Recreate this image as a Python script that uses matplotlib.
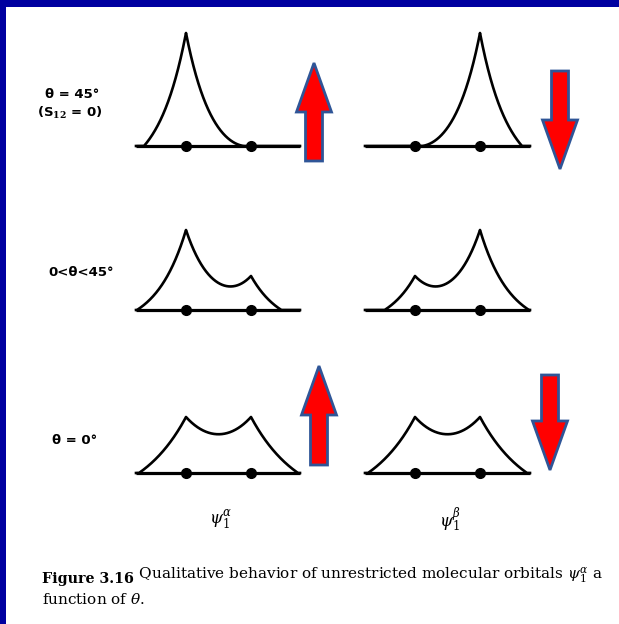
import numpy as np
import matplotlib
matplotlib.use("Agg")
import matplotlib.pyplot as plt
from matplotlib.patches import Rectangle, FancyArrow

# ---- orbital data (one entry per row: theta = 45, 0 < theta < 45, theta = 0) ----
row_labels = ["θ = 45°", "0<θ<45°", "θ = 0°"]
amp_near = [113, 80, 56]     # orbital amplitude on the atom it favours
amp_far = [0, 34, 56]        # orbital amplitude on the other atom
outer_tail = [42, 49, 47]    # reach of the outer tail beyond the favoured atom
decay_len = [28, 30, 48]     # Slater-type decay length
spins = [("up", "down"), (None, None), ("up", "down")]
column_labels = [r"$\psi_1^{\alpha}$", r"$\psi_1^{\beta}$"]
caption_bold = "Figure 3.16"
caption_rest = " Qualitative behavior of unrestricted molecular orbitals "
caption_line2 = "function of $\\theta$."

# ---- layout (pixels) ----
W, H = 619, 624
row_base = [146, 310, 473]
col_atoms = [(186, 251), (415, 480)]
col_span = [(136, 300), (365, 530)]
row_label_xy = [(72, 95), (48, 273), (52, 440)]
arrow_geom = {(0, 0): (314, 161, 63), (0, 1): (560, 71, 169),
              (2, 0): (319, 465, 366), (2, 1): (550, 375, 470)}

plt.rcParams["mathtext.fontset"] = "dejavuserif"

fig = plt.figure(figsize=(W / 100, H / 100), dpi=100)
fig.patch.set_facecolor("#0000A0")
ax = fig.add_axes([0, 0, 1, 1])
ax.set_xlim(0, W)
ax.set_ylim(H, 0)
ax.axis("off")
ax.add_patch(Rectangle((6, 7), W, H, facecolor="white", edgecolor="none", zorder=0))


def lcao_coeffs(h_near, h_far, tail, s, d):
    e_d = np.exp(-d / s)
    e_t = np.exp(-tail / s)
    e_td = np.exp(-(tail + d) / s)
    A = np.array([[1.0, e_d, -1.0],
                  [e_d, 1.0, -1.0],
                  [e_t, e_td, -1.0]])
    return np.linalg.solve(A, np.array([h_near, h_far, 0.0]))


for r in range(3):
    yb = row_base[r]
    for c in range(2):
        xa, xb = col_atoms[c]
        x0, x1 = col_span[c]
        d = xb - xa
        cn, cf, b = lcao_coeffs(amp_near[r], amp_far[r], outer_tail[r], decay_len[r], d)
        near, far = (xa, xb) if c == 0 else (xb, xa)
        x = np.linspace(x0, x1, 1200)
        x = np.sort(np.concatenate([x, [xa, xb]]))
        f = cn * np.exp(-np.abs(x - near) / decay_len[r]) + cf * np.exp(-np.abs(x - far) / decay_len[r]) - b
        f = np.clip(f, 0, None)
        ax.plot([x0, x1], [yb, yb], color="black", lw=2.3, solid_capstyle="butt", zorder=2)
        ax.plot(x, yb - f, color="black", lw=1.9, zorder=3)
        ax.plot([xa, xb], [yb, yb], "o", color="black", ms=7, zorder=4)

        spin = spins[r][c]
        if spin is not None:
            xc, y_tail, y_tip = arrow_geom[(r, c)]
            ax.add_patch(FancyArrow(xc, y_tail, 0, y_tip - y_tail, width=17, head_width=35,
                                    head_length=49, length_includes_head=True,
                                    facecolor="#FF0000", edgecolor="#2F5597", lw=2, zorder=5))

# row labels
lab_kw = dict(fontsize=9.5, fontweight="bold", family="DejaVu Sans", va="center")
ax.text(row_label_xy[0][0], row_label_xy[0][1], row_labels[0], ha="center", **lab_kw)
ax.text(row_label_xy[0][0] - 2, 113, r"(S$_{\mathbf{12}}$ = 0)", ha="center", **lab_kw)
ax.text(row_label_xy[1][0], row_label_xy[1][1], row_labels[1], ha="left", **lab_kw)
ax.text(row_label_xy[2][0], row_label_xy[2][1], row_labels[2], ha="left", **lab_kw)

# column labels
for (xa, xb), lab in zip(col_atoms, column_labels):
    ax.text(xa + 35, 520, lab, ha="center", va="center", fontsize=12)

# caption
t1 = ax.text(42, 583, caption_bold, ha="left", va="baseline", fontsize=10.3,
             fontweight="bold", family="DejaVu Serif")
ax.annotate(caption_rest + r"$\psi_1^{\alpha}$ a", xy=(1, 0), xycoords=t1,
            ha="left", va="bottom", fontsize=11, family="DejaVu Serif",
            annotation_clip=False)
ax.text(42, 604, caption_line2, ha="left", va="baseline", fontsize=11, family="DejaVu Serif")

fig.savefig("out.png", dpi=100, facecolor=fig.get_facecolor())
